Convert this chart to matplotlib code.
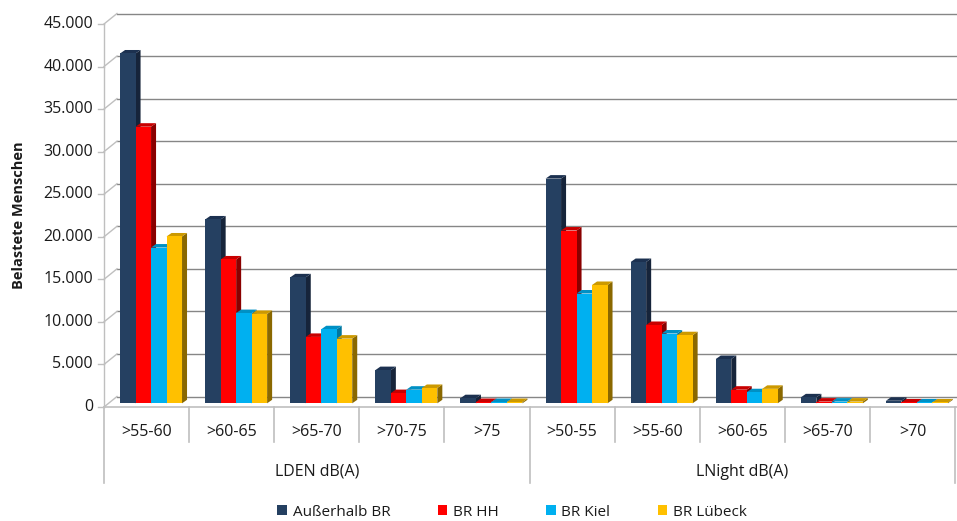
import matplotlib
matplotlib.use("Agg")
import matplotlib.pyplot as plt
from matplotlib.patches import Rectangle, Polygon, Patch

plt.rcParams['font.family'] = ['Open Sans', 'DejaVu Sans']

# Daten
kategorien = [">55-60", ">60-65", ">65-70", ">70-75", ">75",
              ">50-55", ">55-60", ">60-65", ">65-70", ">70"]
gruppen = ["LDEN dB(A)", "LNight dB(A)"]
serien = ["Außerhalb BR", "BR HH", "BR Kiel", "BR Lübeck"]
ausserhalb = [41100, 21600, 14800, 3900, 600, 26400, 16600, 5200, 700, 300]
br_hh = [32500, 16900, 7800, 1200, 150, 20300, 9200, 1600, 200, 100]
br_kiel = [18300, 10600, 8700, 1600, 150, 12900, 8200, 1300, 200, 100]
br_luebeck = [19600, 10500, 7600, 1800, 150, 13900, 8000, 1700, 200, 100]
werte = [ausserhalb, br_hh, br_kiel, br_luebeck]
y_ticks = list(range(0, 45001, 5000))

farben = ["#254061", "#FF0000", "#00B0F0", "#FFC000"]
seiten = ["#16243A", "#8A0000", "#00769F", "#8A6800"]
oben = ["#1C3150", "#C80000", "#0090C4", "#CC9900"]

W, H = 957, 521
fig = plt.figure(figsize=(W / 100, H / 100), dpi=100)
# Vorderebene der Grafik in Pixeln
x_l, x_r, y_0, y_45 = 104, 955, 407, 24
ax = fig.add_axes([x_l / W, (H - y_0) / H, (x_r - x_l) / W, (y_0 - y_45) / H])
ax.set_xlim(0, len(kategorien))
ax.set_ylim(0, 45000)
ax.axis("off")

px_x = (x_r - x_l) / len(kategorien)   # Pixel pro Kategorie
px_y = (y_0 - y_45) / 45000            # Pixel pro Einheit
ux = lambda p: p / px_x
uy = lambda p: p / px_y

# Rückwand-Versatz (3D)
bx, by = ux(13), uy(10.5)
grid_farbe = "#868686"
achse_farbe = "#BFBFBF"
text_farbe = "#1A1A1A"

for v in y_ticks:
    ax.plot([bx, len(kategorien) + bx + 1], [v + by, v + by], color=grid_farbe, lw=1.0, clip_on=False, zorder=1)
    ax.plot([0, bx], [v, v + by], color=achse_farbe, lw=1.0, clip_on=False, zorder=1)
    ax.plot([-ux(6), 0], [v, v], color=achse_farbe, lw=1.0, clip_on=False, zorder=1)
    ax.text(-ux(11), v, f"{v:,}".replace(",", "."), ha="right", va="center", fontsize=11.5, color=text_farbe)

ax.plot([0, 0], [0, 45000], color=achse_farbe, lw=1.0, clip_on=False, zorder=1)
ax.plot([0, len(kategorien) + 1], [0, 0], color=achse_farbe, lw=1.2, clip_on=False, zorder=1)

# Trennlinien und Beschriftung der Kategorien
for i in range(len(kategorien) + 1):
    tief = 76 if i % 5 == 0 else 35
    ax.plot([i, i], [0, -uy(tief)], color=achse_farbe, lw=1.2, clip_on=False)
for i, k in enumerate(kategorien):
    ax.text(i + 0.5, -uy(25), k, ha="center", va="center", fontsize=11.5, color=text_farbe)
for g, name in enumerate(gruppen):
    ax.text(g * 5 + 2.5, -uy(65), name, ha="center", va="center", fontsize=11.5, color=text_farbe)

ax.text(-ux(85), 22500, "Belastete Menschen", rotation=90, ha="center", va="center",
        fontsize=10.5, fontweight="bold", color=text_farbe)

# Säulen mit Tiefe
bw = 0.182
fx, fy = ux(4.5), uy(3.7)
dx, dy = ux(5), uy(3.5)
rand = (1 - 4 * bw) / 2
z = 3
for i in range(len(kategorien)):
    for j, reihe in enumerate(werte):
        v = reihe[i]
        x0 = i + rand + j * bw + fx
        y0 = fy
        y1 = v + fy
        ax.add_patch(Polygon([(x0 + bw, y0), (x0 + bw + dx, y0 + dy), (x0 + bw + dx, y1 + dy), (x0 + bw, y1)],
                             closed=True, facecolor=seiten[j], edgecolor="none", zorder=z, clip_on=False))
        ax.add_patch(Polygon([(x0, y1), (x0 + dx, y1 + dy), (x0 + bw + dx, y1 + dy), (x0 + bw, y1)],
                             closed=True, facecolor=oben[j], edgecolor="none", zorder=z, clip_on=False))
        ax.add_patch(Rectangle((x0, y0), bw, v, facecolor=farben[j], edgecolor="none", zorder=z, clip_on=False))
        z += 1

handles = [Patch(facecolor=c, edgecolor="none") for c in farben]
fig.legend(handles, serien, loc="center", bbox_to_anchor=(512 / W, (H - 512) / H), ncol=4, frameon=False,
           fontsize=11, handlelength=0.65, handleheight=0.65, handletextpad=0.35, columnspacing=3.1,
           borderaxespad=0, borderpad=0, labelcolor=text_farbe)

fig.savefig("out.png", dpi=100)
